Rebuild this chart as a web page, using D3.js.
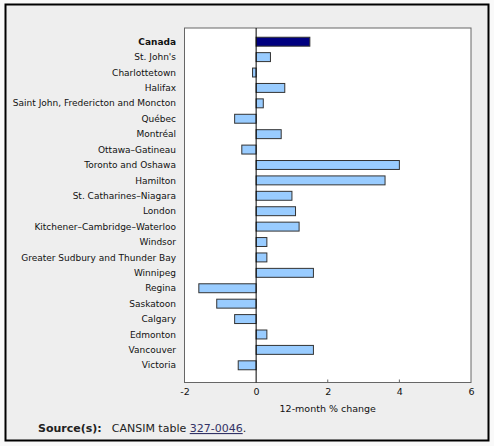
<!DOCTYPE html>
<html><head><meta charset="utf-8">
<script src="https://cdn.jsdelivr.net/npm/d3@7"></script>
<style>
body{margin:0;background:#f9f9f9;}
svg{display:block;font-family:"DejaVu Sans",Verdana,sans-serif;}
</style></head>
<body><svg id="c" width="494" height="446"></svg>
<script>
const categories = ["Canada","St. John's","Charlottetown","Halifax","Saint John, Fredericton and Moncton","Québec","Montréal","Ottawa–Gatineau","Toronto and Oshawa","Hamilton","St. Catharines–Niagara","London","Kitchener–Cambridge–Waterloo","Windsor","Greater Sudbury and Thunder Bay","Winnipeg","Regina","Saskatoon","Calgary","Edmonton","Vancouver","Victoria"];
const values = [1.5,0.4,-0.1,0.8,0.2,-0.6,0.7,-0.4,4.0,3.6,1.0,1.1,1.2,0.3,0.3,1.6,-1.6,-1.1,-0.6,0.3,1.6,-0.5];
const tickValues = [-2,0,2,4,6];
const axisTitle = "12-month % change";

const svg = d3.select("#c");
svg.append("clipPath").attr("id","box").append("rect").attr("x",6).attr("y",5).attr("width",482).attr("height",435);
svg.append("rect").attr("x",5.5).attr("y",4.5).attr("width",483).attr("height",436).attr("fill","#eeeeee").attr("stroke","#000").attr("stroke-width",2);

const L=184.5,R=471,T=28,B=382.5;
const x = d3.scaleLinear().domain([-2,6]).range([L,R]);
const y = d3.scaleBand().domain(categories).range([34,373]).paddingInner(0.42).paddingOuter(0.21);

svg.append("rect").attr("x",L).attr("y",T).attr("width",R-L).attr("height",B-T).attr("fill","#fff").attr("stroke","#666").attr("stroke-width",1);

const g = svg.append("g").attr("clip-path","url(#box)");
g.selectAll("text.lab").data(categories).join("text").attr("class","lab")
  .attr("x",176).attr("y",d=>y(d)+y.bandwidth()/2).attr("dy","0.35em")
  .attr("text-anchor","end").attr("font-size",9).attr("fill","#111")
  .attr("font-weight",d=>d==="Canada"?"bold":"normal").text(d=>d);

svg.selectAll("rect.bar").data(values).join("rect").attr("class","bar")
  .attr("x",d=>x(Math.min(0,d))).attr("y",(d,i)=>y(categories[i]))
  .attr("width",d=>Math.abs(x(d)-x(0))).attr("height",y.bandwidth())
  .attr("fill",(d,i)=>i===0?"#000080":"#99ccff").attr("stroke","#333").attr("stroke-width",1);

svg.append("line").attr("x1",x(0)).attr("x2",x(0)).attr("y1",T).attr("y2",B).attr("stroke","#000").attr("stroke-width",1);

const ax = d3.axisBottom(x).tickValues(tickValues).tickSize(0).tickPadding(6).tickFormat(d=>String(d));
const axg = svg.append("g").attr("transform",`translate(0,${B})`).call(ax);
axg.select(".domain").remove();
axg.selectAll("text").attr("font-size",9.5).attr("fill","#111").attr("font-family","DejaVu Sans, sans-serif");
svg.selectAll("line.tk").data(tickValues.filter(v=>v>-2&&v<6&&v!==0)).join("line").attr("class","tk")
  .attr("x1",d=>x(d)).attr("x2",d=>x(d)).attr("y1",B).attr("y2",B-3).attr("stroke","#666");

svg.append("text").attr("x",x(2)).attr("y",412).attr("text-anchor","middle").attr("font-size",9.5).attr("fill","#111").text(axisTitle);

const src = svg.append("text").attr("x",38).attr("y",432).attr("font-size",11).attr("fill","#222");
src.append("tspan").attr("font-weight","bold").text("Source(s):");
src.append("tspan").attr("dx",10).text("CANSIM table ");
src.append("tspan").attr("fill","#333366").attr("text-decoration","underline").text("327-0046");
src.append("tspan").text(".");
</script></body></html>
